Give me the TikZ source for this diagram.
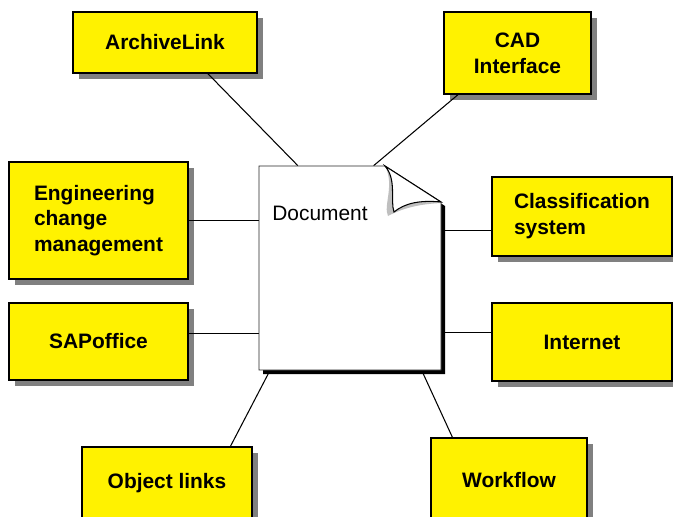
\documentclass[tikz,border=0pt]{standalone}
\usepackage{fontspec}
\setmainfont{Liberation Sans}
\usetikzlibrary{shadows}

\begin{document}
\begin{tikzpicture}[x=0.02cm, y=-0.02cm,
  topic/.style={draw=black, line width=0.7pt, fill=yellow, inner sep=0pt,
    font=\bfseries\fontsize{11.9}{14.7}\selectfont,
    drop shadow={shadow xshift=0.12cm, shadow yshift=-0.12cm,
      fill=black!50, opacity=1}},
  link/.style={line width=0.6pt}]
  \useasboundingbox (0,0) rectangle (673,517);
  \clip (0,0) rectangle (673,517);
  % the document in the middle
  \node[minimum width=3.64cm, minimum height=4.08cm, inner sep=0pt] (doc) at (350,268) {};
  % yellow topics
  \node[topic, minimum width=3.68cm, minimum height=1.22cm] (arch) at (165,42.5) {ArchiveLink};
  \node[topic, minimum width=2.94cm, minimum height=1.64cm, align=center] (cad) at (517.5,53) {CAD\\Interface};
  \node[topic, minimum width=3.58cm, minimum height=2.34cm, align=left] (eng) at (98.5,220.5) {Engineering\\change\\management};
  \node[topic, minimum width=3.60cm, minimum height=1.58cm, align=left] (cls) at (582,216.5) {Classification\\system};
  \node[topic, minimum width=3.58cm, minimum height=1.54cm] (sap) at (98.5,341.5) {SAPoffice};
  \node[topic, minimum width=3.60cm, minimum height=1.56cm] (inet) at (582,342) {Internet};
  \node[topic, minimum width=3.40cm, minimum height=1.44cm] (obj) at (167,483) {Object links};
  \node[topic, minimum width=3.12cm, minimum height=1.68cm] (wf) at (509,480) {Workflow};
  % connectors
  \draw[link] (arch.-36) -- (doc.117);
  \draw[link] (cad.-145) -- (doc.77);
  \draw[link] (eng.east) -- (eng.east -| doc.west);
  \draw[link] (cls.189) -- (cls.189 -| doc.east);
  \draw[link] (sap.5) -- (sap.5 -| doc.west);
  \draw[link] (inet.174) -- (inet.174 -| doc.east);
  \draw[link] (obj.30) -- (doc.-128);
  \draw[link] (wf.143) -- (doc.-55);
  % sheet with its shadow and curled corner
  \fill[black] (389,170) -- (445,206) -- (445,374) -- (263,374) -- (263,170) -- cycle;
  \draw[fill=white, line width=0.5pt, draw=black!85] (259,166) -- (385,166) -- (441,202) -- (441,370) -- (259,370) -- cycle;
  \fill[black!25] (385,166) .. controls (395,185) and (383,206) .. (388,216)
    .. controls (405,207) and (422,204) .. (441,203) -- cycle;
  \draw[fill=white, line width=0.6pt] (385,166) .. controls (397,180) and (390,200) .. (394,212)
    .. controls (405,203) and (420,200) .. (441,202) -- cycle;
  \node[anchor=west, inner sep=0pt, font=\fontsize{11.9}{14.7}\selectfont] (doclabel) at (272,213.5) {Document};
\end{tikzpicture}
\end{document}
